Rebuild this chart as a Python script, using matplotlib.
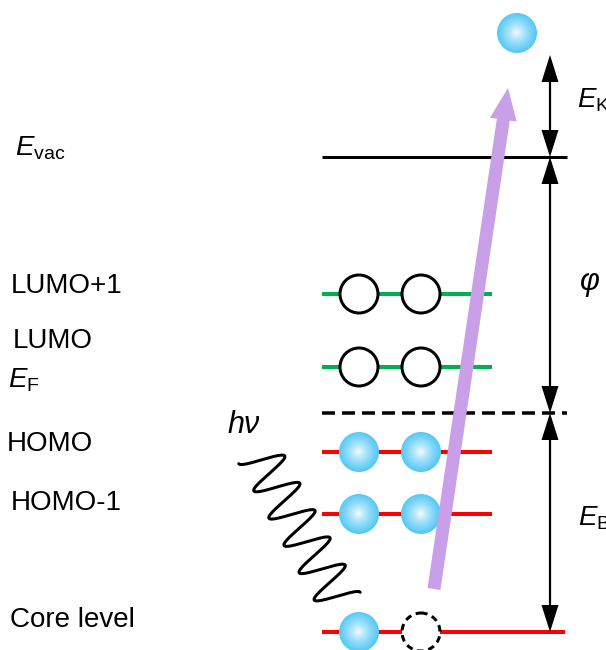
import numpy as np
import matplotlib
matplotlib.use('Agg')
import matplotlib.pyplot as plt
from matplotlib.patches import Circle, FancyArrow, Polygon

plt.rcParams['font.family'] = ['Liberation Sans', 'DejaVu Sans']
plt.rcParams['mathtext.fontset'] = 'custom'
plt.rcParams['mathtext.rm'] = 'Liberation Sans'
plt.rcParams['mathtext.it'] = 'Liberation Sans:italic'

# ---- diagram content (pixel layout, y grows downward) ----
level_names = ['LUMO+1', 'LUMO', 'HOMO', 'HOMO-1', 'Core level']
level_y = [294, 367, 452, 514, 632]
level_x_end = [492, 492, 492, 492, 565]
level_colors = ['#00B050', '#00B050', '#FF0000', '#FF0000', '#FF0000']
label_pos = [(11, 293), (13, 348), (7, 451), (11, 510), (10, 627)]
occupancy = [['empty', 'empty'], ['empty', 'empty'],
             ['filled', 'filled'], ['filled', 'filled'],
             ['filled', 'hole']]
slot_x = [359, 421]
level_x_start = 322

vac_y = 157
fermi_y = 413
ref_x_end = 567

emitted_electron = (517, 33)
ek_top = 55
bracket_x = 550

W, H = 606, 650
PX = 0.72  # points per pixel at 100 dpi
R = 20     # electron radius in px

fig = plt.figure(figsize=(W / 100, H / 100), dpi=100)
ax = fig.add_axes([0, 0, 1, 1])
ax.axis('off')


def ball(x, y, r=R, z=5):
    n = 96
    g = np.linspace(-1, 1, n)
    X, Y = np.meshgrid(g, g)
    d = np.clip(np.sqrt((X + 0.02) ** 2 + (Y + 0.02) ** 2), 0, 1)
    f = d ** 0.75
    edge = np.array([85, 200, 245]) / 255.0
    img = np.ones((n, n, 3)) * (1 - f[..., None]) + edge * f[..., None]
    im = ax.imshow(img, extent=(x - r, x + r, y + r, y - r), zorder=z,
                   interpolation='bilinear', aspect='auto')
    clip = Circle((x, y), r, transform=ax.transData)
    im.set_clip_path(clip)


def open_circle(x, y, dashed=False, z=5):
    c = Circle((x, y), R - 1, facecolor='white', edgecolor='black',
               lw=3 * PX, zorder=z)
    if dashed:
        c.set_linestyle((0, (2.2, 1.6)))
    ax.add_patch(c)


def head(x, tip, direction, z=6):
    # direction: +1 points down (larger y), -1 points up
    L, hw = 27, 8.5
    base = tip - direction * L
    ax.add_patch(Polygon([(x, tip), (x - hw, base), (x + hw, base)],
                         closed=True, color='black', lw=0, zorder=z))


# reference levels
ax.plot([level_x_start, ref_x_end], [vac_y, vac_y], color='black',
        lw=3 * PX, solid_capstyle='butt', zorder=3)
ax.plot([level_x_start, ref_x_end], [fermi_y, fermi_y], color='black',
        lw=3.5 * PX, dashes=(13 / 3.5, 7 / 3.5), dash_capstyle='butt', zorder=3)

# molecular and core levels with their electrons
for y, xe, col, occ in zip(level_y, level_x_end, level_colors, occupancy):
    ax.plot([level_x_start, xe], [y, y], color=col, lw=4 * PX,
            solid_capstyle='butt', zorder=3)
    for sx, state in zip(slot_x, occ):
        if state == 'filled':
            ball(sx, y)
        else:
            open_circle(sx, y, dashed=(state == 'hole'))

for name, (lx, ly) in zip(level_names, label_pos):
    ax.text(lx, ly, name, fontsize=20, va='baseline', ha='left')

ax.text(15, 155, r'$E_{\mathrm{vac}}$', fontsize=20, va='baseline')
ax.text(8, 388, r'$E_{\mathrm{F}}$', fontsize=20, va='baseline')
ax.text(577, 107, r'$E_{\mathrm{K}}$', fontsize=20, va='baseline')
ax.text(578, 525, r'$E_{\mathrm{B}}$', fontsize=20, va='baseline')
ax.text(580, 290, 'φ', fontsize=22, style='italic', va='baseline')
ax.text(228, 433, 'hν', fontsize=22, style='italic', va='baseline')

# emitted photoelectron
ball(*emitted_electron)

# energy brackets
spans = [(ek_top, vac_y), (vac_y, fermi_y), (fermi_y, level_y[-1])]
for top, bot in spans:
    ax.plot([bracket_x, bracket_x], [top + 20, bot - 20], color='black',
            lw=2.2 * PX, zorder=5)
    head(bracket_x, top, -1)
    head(bracket_x, bot, +1)

# photon wave
c0 = np.array([258.0, 453.0])
c1 = np.array([341.0, 603.0])
axis = c1 - c0
u = np.array([axis[1], -axis[0]]) / np.hypot(*axis)
t = np.linspace(0, 1, 600)
phase = 2 * np.pi * 5.5 * t - np.pi / 2
pts = c0[None, :] + t[:, None] * axis[None, :] + 22 * np.sin(phase)[:, None] * u[None, :]
ax.plot(pts[:, 0], pts[:, 1], color='black', lw=3 * PX,
        solid_capstyle='round', zorder=4)

# excitation arrow
ax.add_patch(FancyArrow(434, 589, 74, -501, width=13, head_width=27,
                        head_length=32, length_includes_head=True,
                        color='#C9A0E8', lw=0, zorder=10))

ax.set_xlim(0, W)
ax.set_ylim(H, 0)
fig.savefig('out.png', dpi=100)
